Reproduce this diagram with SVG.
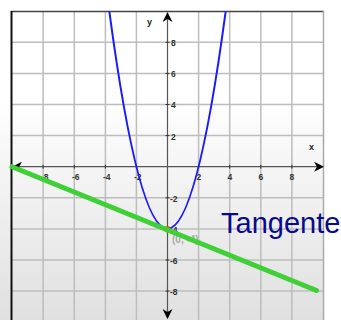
<svg xmlns="http://www.w3.org/2000/svg" width="341" height="320" viewBox="0 0 341 320">
<defs>
<linearGradient id="bg" x1="0" y1="0" x2="0" y2="320" gradientUnits="userSpaceOnUse">
<stop offset="0.3" stop-color="#ffffff"/>
<stop offset="1" stop-color="#e0e0e0"/>
</linearGradient>
<clipPath id="plot"><rect x="12" y="11" width="311" height="309"/></clipPath>
<marker id="ah" viewBox="0 0 10 10" refX="9" refY="5" markerWidth="10" markerHeight="10" markerUnits="userSpaceOnUse" orient="auto">
<path d="M0,0 L10,5 L0,10 L3,5 Z" fill="#000"/>
</marker>
<style>
.grid{stroke:#bdbdbd;stroke-width:1.5;fill:none}
.axis{stroke:#555;stroke-width:1.2;fill:none}
.tick{stroke:#333;stroke-width:1}
.tl{font-family:"Liberation Sans",Arial,sans-serif;font-size:8.5px;fill:#333;font-weight:bold}
.al{font-family:"Liberation Sans",Arial,sans-serif;font-size:9px;fill:#222;font-weight:bold}
</style>
</defs>
<rect x="0" y="0" width="341" height="320" fill="url(#bg)"/>
<rect x="324" y="0" width="17" height="320" fill="#ffffff"/>
<g id="grid" class="grid">
<path d="M43.1,11V320M74.3,11V320M105.4,11V320M136.4,11V320M198.6,11V320M229.7,11V320M260.8,11V320M291.9,11V320"/>
<path d="M12,42.3H323M12,73.4H323M12,104.5H323M12,135.6H323M12,197.8H323M12,228.9H323M12,260H323M12,291.1H323"/>
</g>
<g id="frame">
<line x1="11" y1="11.5" x2="324" y2="11.5" stroke="#444" stroke-width="1.5"/>
<line x1="11.5" y1="11" x2="11.5" y2="320" stroke="#111" stroke-width="2"/>
<line x1="323.5" y1="11" x2="323.5" y2="320" stroke="#aaa" stroke-width="1.5"/>
</g>
<g id="axes">
<line class="axis" x1="167.5" y1="166.7" x2="167.5" y2="13" marker-end="url(#ah)"/>
<line class="axis" x1="167.5" y1="166.7" x2="167.5" y2="318" marker-end="url(#ah)"/>
<line class="axis" x1="167.5" y1="166.7" x2="13" y2="166.7" marker-end="url(#ah)"/>
<line class="axis" x1="167.5" y1="166.7" x2="323" y2="166.7" marker-end="url(#ah)"/>
<path class="tick" d="M165.5,42.3h4M165.5,73.4h4M165.5,104.5h4M165.5,135.6h4M165.5,197.8h4M165.5,228.9h4M165.5,260h4M165.5,291.1h4"/>
<path class="tick" d="M43.1,164.7v4M74.3,164.7v4M105.4,164.7v4M136.4,164.7v4M198.6,164.7v4M229.7,164.7v4M260.8,164.7v4M291.9,164.7v4"/>
<text class="al" x="147" y="25">y</text>
<text class="al" x="309" y="150">x</text>
<g class="tl">
<text x="171" y="46">8</text>
<text x="171" y="77">6</text>
<text x="171" y="108">4</text>
<text x="171" y="139.5">2</text>
<text x="170" y="201.5">-2</text>
<text x="170" y="232.5">-4</text>
<text x="170" y="264">-6</text>
<text x="170" y="295">-8</text>
<text x="41" y="180">-8</text>
<text x="72" y="180">-6</text>
<text x="103" y="180">-4</text>
<text x="134" y="180">-2</text>
<text x="196.5" y="180">2</text>
<text x="227.5" y="180">4</text>
<text x="258.5" y="180">6</text>
<text x="289.5" y="180">8</text>
</g>
</g>
<g id="parabola" clip-path="url(#plot)">
<path d="M109.3,11.2 Q167.5,446.6 225.7,11.2" fill="none" stroke="#1a1aff" stroke-width="2"/>
</g>
<g id="point">
<circle cx="167.5" cy="229.3" r="3.2" fill="#e8531c"/>
<text x="172" y="243" font-family="Liberation Sans,Arial,sans-serif" font-size="10" fill="#aaaaaa" font-weight="bold">(0, -4)</text>
</g>
<g id="tangent">
<line x1="12" y1="166.7" x2="316.5" y2="290.5" stroke="#3fcf37" stroke-width="5" stroke-linecap="round"/>
</g>
<g id="label">
<text x="221" y="233" font-family="Liberation Sans,Arial,sans-serif" font-size="29" fill="#0a0a8a">Tangente</text>
</g>
</svg>
